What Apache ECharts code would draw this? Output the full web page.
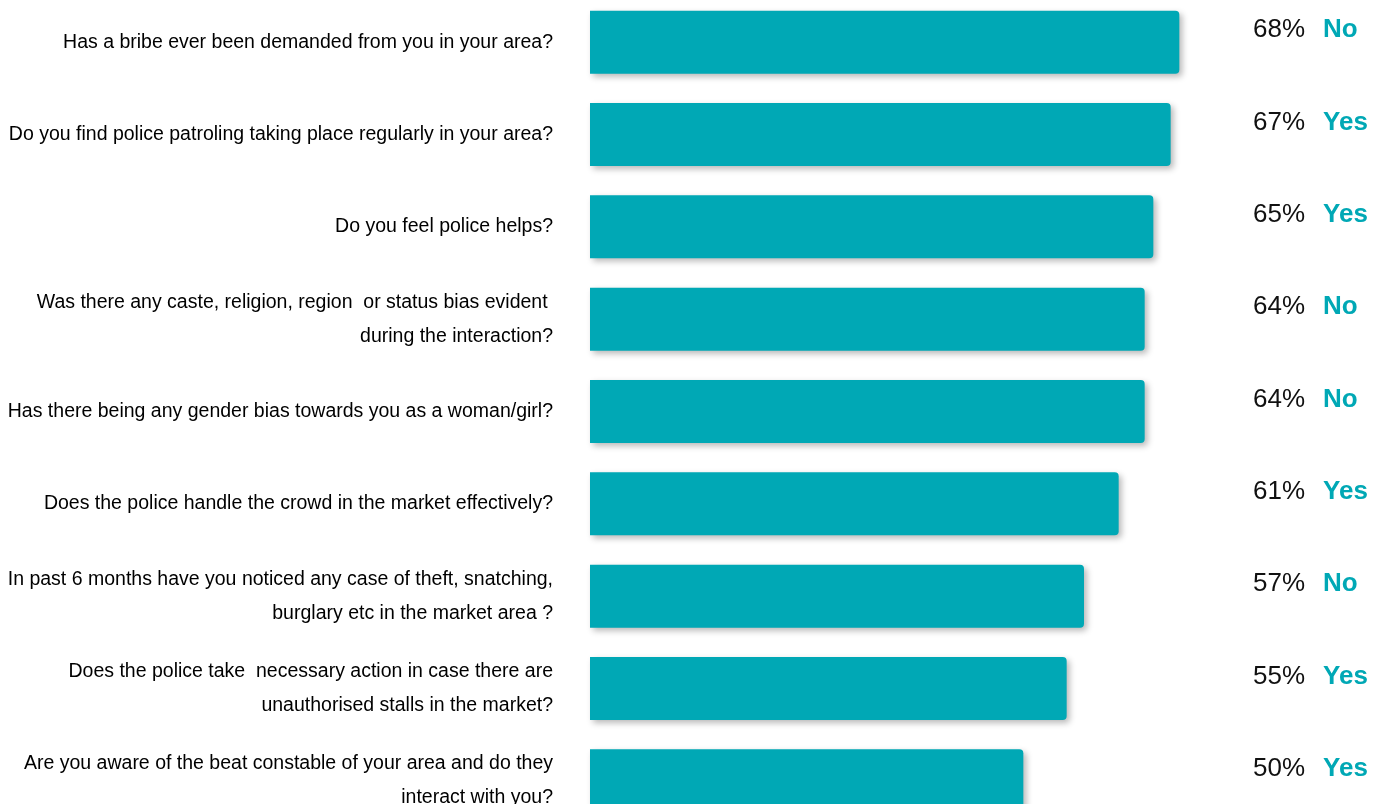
<!DOCTYPE html>
<html>
<head>
<meta charset="utf-8">
<script src="https://cdn.jsdelivr.net/npm/echarts@6/dist/echarts.min.js"></script>
<style>
  html, body { margin: 0; padding: 0; background: #ffffff; overflow: hidden; }
  #chart { width: 1386px; height: 804px; }
</style>
</head>
<body>
<div id="chart"></div>
<script>
// Survey questions (top to bottom)
const questions = [
  'Has a bribe ever been demanded from you in your area?',
  'Do you find police patroling taking place regularly in your area?',
  'Do you feel police helps?',
  'Was there any caste, religion, region  or status bias evident \nduring the interaction?',
  'Has there being any gender bias towards you as a woman/girl?',
  'Does the police handle the crowd in the market effectively?',
  'In past 6 months have you noticed any case of theft, snatching,\nburglary etc in the market area ?',
  'Does the police take  necessary action in case there are\nunauthorised stalls in the market?',
  'Are you aware of the beat constable of your area and do they\ninteract with you?'
];
// Share of respondents giving the majority answer (%)
const shares = [68, 67, 65, 64, 64, 61, 57, 55, 50];
// The majority answer itself
const answers = ['No', 'Yes', 'Yes', 'No', 'No', 'Yes', 'No', 'Yes', 'Yes'];

const teal = '#00A8B5';
const chart = echarts.init(document.getElementById('chart'), null, { renderer: 'canvas' });

const rightLabels = shares.map((s, i) => s + '%|' + answers[i]);

chart.setOption({
  animation: false,
  grid: {
    left: 590, right: 146, top: -4, height: 831,
    containLabel: false, outerBoundsMode: 'none'
  },
  xAxis: {
    type: 'value', min: 0, max: 75,
    show: false
  },
  yAxis: [
    {
      type: 'category', inverse: true, data: questions,
      axisLine: { show: false }, axisTick: { show: false },
      axisLabel: {
        margin: 37, align: 'right',
        fontFamily: '"Liberation Sans", Arial, sans-serif',
        fontSize: 19.5, lineHeight: 34, color: '#000'
      }
    },
    {
      type: 'category', inverse: true, data: rightLabels, position: 'right',
      axisLine: { show: false }, axisTick: { show: false },
      axisLabel: {
        margin: 13, align: 'left',
        padding: [0, 0, 24, 0],
        formatter: v => {
          const [p, a] = v.split('|');
          return '{p|' + p + '}{a|' + a + '}';
        },
        rich: {
          p: { fontFamily: '"Liberation Sans", Arial, sans-serif', fontSize: 26, color: '#111' },
          a: { fontFamily: '"Liberation Sans", Arial, sans-serif', fontSize: 26, fontWeight: 'bold', color: teal, padding: [0, 0, 0, 18] }
        }
      }
    }
  ],
  series: [{
    type: 'bar', yAxisIndex: 0, data: shares, barWidth: 63,
    itemStyle: {
      color: teal, borderRadius: [0, 4, 4, 0],
      shadowBlur: 6, shadowColor: 'rgba(0,0,0,0.28)', shadowOffsetX: 3, shadowOffsetY: 3
    }
  }]
});
</script>
</body>
</html>
